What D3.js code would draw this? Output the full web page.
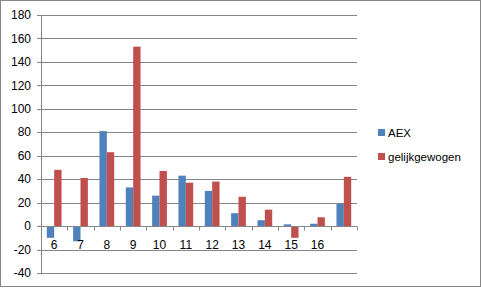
<!DOCTYPE html>
<html>
<head>
<meta charset="utf-8">
<script src="https://cdn.jsdelivr.net/npm/d3@7"></script>
<style>
  body { margin: 0; background: #fff; }
  text { font-family: "Liberation Sans", Arial, sans-serif; fill: #000; }
</style>
</head>
<body>
<svg id="chart" width="481" height="289"></svg>
<script>
var categories = ['6', '7', '8', '9', '10', '11', '12', '13', '14', '15', '16', ''];
var aex = [-10, -13, 81, 33, 26, 43, 30, 11, 5, 1.5, 2, 19];
var gelijkgewogen = [48, 41, 63, 153, 47, 37, 38, 25, 14, -10, 7.5, 42];
var seriesNames = ['AEX', 'gelijkgewogen'];
var seriesColors = ['#4F81BD', '#C0504D'];
var yTicks = [-40, -20, 0, 20, 40, 60, 80, 100, 120, 140, 160, 180];

var width = 481, height = 289;
var plot = {left: 41, right: 357, top: 15, bottom: 273};

var svg = d3.select('#chart');

// outer chart border
svg.append('rect')
    .attr('x', 0.5).attr('y', 0.5)
    .attr('width', width - 1).attr('height', height - 3)
    .attr('fill', '#fff').attr('stroke', '#868686');

var y = d3.scaleLinear().domain([-40, 180]).range([plot.bottom, plot.top]);
var x = d3.scaleBand().domain(d3.range(categories.length))
    .range([plot.left, plot.right]).paddingInner(0.44).paddingOuter(0.22);
var xs = d3.scaleBand().domain(d3.range(seriesNames.length)).range([0, x.bandwidth()]);
var step = x.step();

// gridlines
svg.append('g').selectAll('line').data(yTicks).join('line')
    .attr('x1', plot.left - 4).attr('x2', plot.right)
    .attr('y1', function (d) { return Math.round(y(d)) + 0.5; })
    .attr('y2', function (d) { return Math.round(y(d)) + 0.5; })
    .attr('stroke', '#868686');

// y axis labels
svg.append('g').selectAll('text').data(yTicks).join('text')
    .attr('x', 31).attr('y', function (d) { return y(d); })
    .attr('dy', '0.35em').attr('text-anchor', 'end')
    .attr('font-size', 12)
    .text(function (d) { return d; });

// bars
var series = [aex, gelijkgewogen];
series.forEach(function (vals, s) {
    svg.append('g').selectAll('rect').data(vals).join('rect')
        .attr('x', function (d, i) { return x(i) + xs(s); })
        .attr('width', xs.bandwidth())
        .attr('y', function (d) { return y(Math.max(0, d)); })
        .attr('height', function (d) { return Math.abs(y(d) - y(0)); })
        .attr('fill', seriesColors[s]);
});

// y axis line
svg.append('line')
    .attr('x1', plot.left + 0.5).attr('x2', plot.left + 0.5)
    .attr('y1', plot.top).attr('y2', plot.bottom)
    .attr('stroke', '#868686');

// x axis line at zero with ticks
var y0 = Math.round(y(0)) + 0.5;
svg.append('line')
    .attr('x1', plot.left).attr('x2', plot.right)
    .attr('y1', y0).attr('y2', y0).attr('stroke', '#868686');
svg.append('g').selectAll('line').data(d3.range(categories.length + 1)).join('line')
    .attr('x1', function (i) { return Math.round(plot.left + i * step * 1) + 0.5; })
    .attr('x2', function (i) { return Math.round(plot.left + i * step * 1) + 0.5; })
    .attr('y1', y0).attr('y2', y0 + 4)
    .attr('stroke', '#868686');

// category labels
svg.append('g').selectAll('text').data(categories).join('text')
    .attr('x', function (d, i) { return x(i) + x.bandwidth() / 2; })
    .attr('y', y0 + 22).attr('text-anchor', 'middle')
    .attr('font-size', 12)
    .text(function (d) { return d; });

// legend
var legend = svg.append('g').selectAll('g').data(seriesNames).join('g')
    .attr('transform', function (d, i) { return 'translate(378,' + (129 + i * 24) + ')'; });
legend.append('rect').attr('width', 7).attr('height', 7)
    .attr('fill', function (d, i) { return seriesColors[i]; });
legend.append('text').attr('x', 10).attr('y', 4).attr('dy', '0.35em')
    .attr('font-size', 11.5)
    .text(function (d) { return d; });
</script>
</body>
</html>
